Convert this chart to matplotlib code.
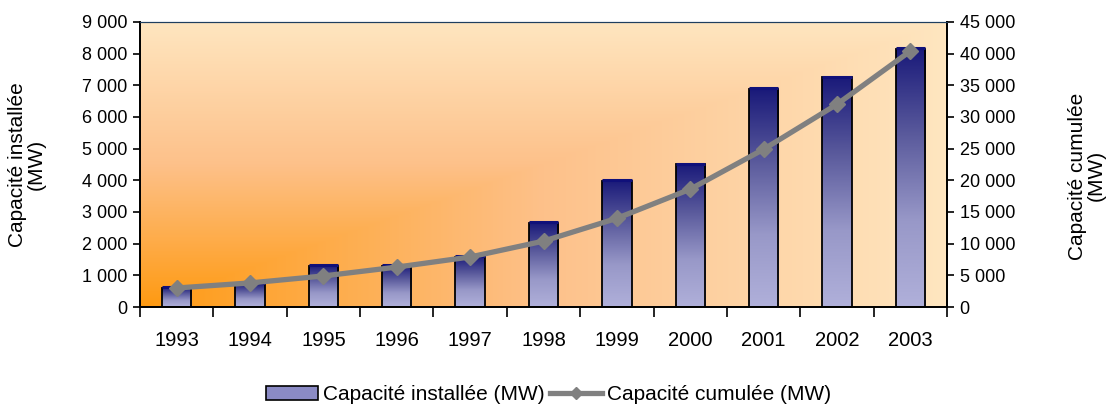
import numpy as np
import matplotlib.pyplot as plt
from matplotlib.ticker import FuncFormatter, FixedLocator
from matplotlib.colors import LinearSegmentedColormap
from matplotlib.patches import Patch
from matplotlib.lines import Line2D

# Data
years = ['1993', '1994', '1995', '1996', '1997', '1998', '1999', '2000', '2001', '2002', '2003']
installed = [600, 730, 1310, 1300, 1580, 2650, 3980, 4500, 6880, 7250, 8150]
cumulative = [3000, 3800, 4900, 6300, 7900, 10400, 14000, 18600, 24900, 32000, 40400]

plt.rcParams['font.family'] = ['Liberation Sans', 'DejaVu Sans']

fig = plt.figure(figsize=(11.08, 4.07), dpi=100)
ax = fig.add_axes([0.1264, 0.2457, 0.7283, 0.7003])
ax2 = ax.twinx()

x = np.arange(len(years))

# background gradient ("from corner" style)
gx, gy = np.meshgrid(np.linspace(0, 1, 400), np.linspace(0, 1, 200))
t = np.maximum(gx * 1.0, gy)
bg_cmap = LinearSegmentedColormap.from_list('bg', ['#ff9a12', '#fdc18a', '#ffe6c0'])
ax.imshow(t, cmap=bg_cmap, origin='lower', aspect='auto',
          extent=[-0.5, len(years) - 0.5, 0, 9000], zorder=0)

# bars with vertical gradient
bar_cmap = LinearSegmentedColormap.from_list('bar', ['#b0b0da', '#9898c8', '#5a5a9c', '#1a1a7a'])
grad = np.linspace(0, 1, 256).reshape(-1, 1)
bars = ax.bar(x, installed, width=0.4, facecolor='none', edgecolor='black',
              linewidth=1.3, zorder=3)
for b in bars:
    x0, w, h = b.get_x(), b.get_width(), b.get_height()
    im = ax.imshow(grad, cmap=bar_cmap, origin='lower', aspect='auto',
                   extent=[x0, x0 + w, 0, h], zorder=2)
    im.set_clip_path(b)
    ax.plot([x0, x0 + w], [h + 25, h + 25], color='#10107a', lw=2.2,
            solid_capstyle='butt', zorder=4)

ax.set_xlim(-0.5, len(years) - 0.5)
ax.set_ylim(0, 9000)
ax2.set_ylim(0, 45000)

# cumulative line
ax2.plot(x, cumulative, color='#808080', lw=3.8, marker='D', markersize=8,
         markeredgecolor='#808080', zorder=5)

fmt = FuncFormatter(lambda v, p: f"{v:,.0f}".replace(',', ' '))
ax.yaxis.set_major_formatter(fmt)
ax2.yaxis.set_major_formatter(fmt)
ax.set_yticks(np.arange(0, 9001, 1000))
ax2.set_yticks(np.arange(0, 45001, 5000))

ax.set_xticks(x)
ax.set_xticklabels(years)
ax.xaxis.set_minor_locator(FixedLocator(np.arange(-0.5, len(years), 1)))
ax.tick_params(axis='x', which='major', length=0, pad=17, labelsize=14.5)
ax.tick_params(axis='x', which='minor', length=7, width=1.2, direction='out')
ax.tick_params(axis='y', length=5, width=1.2, labelsize=13, pad=4)
ax2.tick_params(axis='y', length=5, width=1.2, labelsize=13, pad=4)

for sp in ['left', 'bottom', 'right']:
    ax2.spines[sp].set_linewidth(1.3)
    ax.spines[sp].set_linewidth(1.3)
ax.spines['top'].set_color('#1f3f5f')
ax2.spines['top'].set_color('#1f3f5f')

ax.set_ylabel('Capacité installée\n(MW)', fontsize=15, linespacing=0.95)
ax2.set_ylabel('Capacité cumulée\n(MW)', fontsize=15, rotation=90, linespacing=0.95)
ax.yaxis.set_label_coords(-0.117, 0.5)
ax2.yaxis.set_label_coords(1.150, 0.46)

handles = [Patch(facecolor='#8a8ac4', edgecolor='black', linewidth=1.2),
           Line2D([], [], color='#808080', lw=3.8, marker='D', markersize=6)]
fig.legend(handles, ['Capacité installée (MW)', 'Capacité cumulée (MW)'],
           loc='center', bbox_to_anchor=(0.495, 0.03), ncol=2, frameon=False,
           fontsize=15, handlelength=2.5, handletextpad=0.25, columnspacing=0.25)

fig.savefig('out.png', dpi=100)
